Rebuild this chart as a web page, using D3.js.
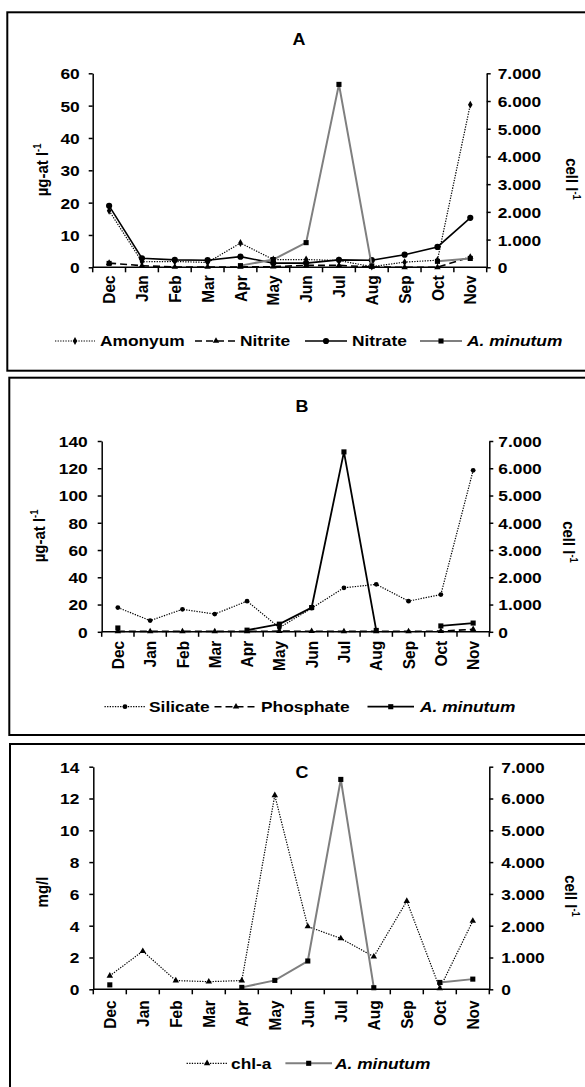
<!DOCTYPE html>
<html><head><meta charset="utf-8">
<script src="https://cdn.jsdelivr.net/npm/d3@7"></script>
<style>
body{margin:0;background:#fff;overflow:hidden}
svg{display:block}
text{font-family:"Liberation Sans",Arial,sans-serif;font-weight:bold;fill:#000}
</style>
</head><body>
<svg id="chart" width="585" height="1087"></svg>
<script>
// ---------- DATA ----------
const months = ["Dec","Jan","Feb","Mar","Apr","May","Jun","Jul","Aug","Sep","Oct","Nov"];
const amonyum   = [17.5, 1.7, 1.8, 1.5, 7.5, 2.4, 2.4, 2.1, 0.2, 1.6, 2.2, 50.3];
const nitrite   = [1.3, 0.5, 0.1, 0.1, 0.1, 0.2, 0.6, 0.6, 0.1, 0.0, 0.0, 3.2];
const nitrate   = [19.0, 2.8, 2.3, 2.2, 3.3, 1.3, 1.3, 2.3, 2.2, 3.9, 6.3, 15.3];
const silicate  = [17.8, 8.2, 16.5, 13.0, 22.5, 3.0, 17.3, 32.3, 34.8, 22.5, 27.3, 118.5];
const phosphate = [0.3, 0.3, 0.3, 0.3, 0.3, 0.5, 0.4, 0.3, 0.3, 0.3, 0.5, 1.8];
const chla      = [0.85, 2.4, 0.55, 0.48, 0.55, 12.2, 3.95, 3.2, 2.05, 5.55, 0.06, 4.3];
const aMinutum  = [140, null, null, null, 60, 280, 890, 6600, 50, null, 215, 320];
const cellTicks = [0, 1000, 2000, 3000, 4000, 5000, 6000, 7000];
const ticksA = [0, 10, 20, 30, 40, 50, 60];
const ticksB = [0, 20, 40, 60, 80, 100, 120, 140];
const ticksC = [0, 2, 4, 6, 8, 10, 12, 14];

// ---------- SETUP ----------
const SX = 1.12, FS = 15.5;
const svg = d3.select("#chart");
const fmt = d3.formatLocale({decimal: ",", thousands: ".", grouping: [3], currency: ["", ""]}).format(",");
const GREY = "#7f7f7f";

const styles = {
  amonyum:   {dash: "1.3,1.3", width: 1.2, color: "#000", sym: d3.symbolDiamond, size: 18},
  nitrite:   {dash: "7,4", width: 1.6, color: "#000", sym: d3.symbolTriangle, size: 18},
  nitrate:   {dash: null, width: 1.6, color: "#000", sym: d3.symbolCircle, size: 30},
  silicate:  {dash: "1.3,1.3", width: 1.2, color: "#000", sym: d3.symbolCircle, size: 18},
  phosphate: {dash: "7,4", width: 1.6, color: "#000", sym: d3.symbolTriangle, size: 18},
  chla:      {dash: "1.3,1.3", width: 1.2, color: "#000", sym: d3.symbolTriangle, size: 18},
  minGrey:   {dash: null, width: 2, color: GREY, sym: d3.symbolSquare, size: 26, mcolor: "#000"},
  minBlack:  {dash: null, width: 1.8, color: "#000", sym: d3.symbolSquare, size: 26}
};

function stext(g, x, y, str, anchor, rot, size, italic) {
  const t = g.append("text")
    .attr("text-anchor", anchor)
    .attr("dy", "0.35em")
    .attr("font-size", size || FS)
    .attr("transform", `translate(${x},${y}) scale(${SX},1)` + (rot ? ` rotate(${rot})` : ""));
  if (italic) t.attr("font-style", "italic");
  t.text(str);
  return t;
}

function supLabel(g, x, y, main, sup, rot, size) {
  const t = g.append("text")
    .attr("text-anchor", "middle")
    .attr("font-size", size)
    .attr("transform", `translate(${x},${y}) scale(${SX},1) rotate(${rot})`);
  t.append("tspan").text(main);
  t.append("tspan").attr("font-size", size * 0.62).attr("dy", -size * 0.4).text(sup);
  return t;
}

function panel(p) {
  const g = svg.append("g");
  g.append("rect")
    .attr("x", p.box[0]).attr("y", p.box[1])
    .attr("width", p.box[2] - p.box[0]).attr("height", p.box[3] - p.box[1])
    .attr("fill", "none").attr("stroke", "#000").attr("stroke-width", 2);

  const x = d3.scaleBand().domain(months).range([p.xL, p.xR]);
  const bw = x.bandwidth();
  const yL = d3.scaleLinear().domain([0, p.leftTicks[p.leftTicks.length - 1]]).range([p.yBot, p.yTop]);
  const yR = d3.scaleLinear().domain([0, 7000]).range([p.yBot, p.yTop]);

  // left axis
  const la = g.append("g").attr("transform", `translate(${p.xL},0)`)
    .call(d3.axisLeft(yL).tickValues(p.leftTicks).tickSize(4).tickSizeOuter(0));
  la.attr("font-size", FS).attr("font-family", null);
  la.selectAll("path,line").attr("stroke", "#000").attr("stroke-width", 1.5);
  la.selectAll("text").attr("x", null).attr("dy", "0.35em")
    .attr("transform", `translate(${-p.lpad},0) scale(${SX},1)`);

  // right axis
  const ra = g.append("g").attr("transform", `translate(${p.xR},0)`)
    .call(d3.axisRight(yR).tickValues(cellTicks).tickFormat(fmt).tickSize(4).tickSizeOuter(0));
  ra.attr("font-size", FS).attr("font-family", null);
  ra.selectAll("path,line").attr("stroke", "#000").attr("stroke-width", 1.5);
  ra.selectAll("text").attr("x", null).attr("dy", "0.35em")
    .attr("transform", `translate(${p.rpad},0) scale(${SX},1)`);

  // x axis
  g.append("line").attr("x1", p.xL).attr("x2", p.xR).attr("y1", p.yBot).attr("y2", p.yBot)
    .attr("stroke", "#000").attr("stroke-width", 1.5);
  g.selectAll(".bt").data(months.map(m => x(m)).concat([p.xR])).enter().append("line")
    .attr("x1", d => d).attr("x2", d => d).attr("y1", p.yBot).attr("y2", p.yBot + 5)
    .attr("stroke", "#000").attr("stroke-width", 1.5);
  g.selectAll(".ml").data(months).enter().append("text")
    .attr("text-anchor", "end").attr("dy", "0.35em").attr("font-size", FS)
    .attr("transform", m => `translate(${x(m) + bw / 2},${p.yBot + p.mpad}) scale(${SX},1) rotate(-90)`)
    .text(m => m);

  // series
  p.series.forEach(s => {
    const st = styles[s.style];
    const y = s.axis === "R" ? yR : yL;
    const line = d3.line().defined(d => d != null)
      .x((d, i) => x(months[i]) + bw / 2).y(d => y(d));
    g.append("path").datum(s.values).attr("d", line)
      .attr("fill", "none").attr("stroke", st.color).attr("stroke-width", st.width)
      .attr("stroke-dasharray", st.dash);
    g.selectAll(null).data(s.values.map((v, i) => ({v, i})).filter(d => d.v != null)).enter()
      .append("path")
      .attr("d", d3.symbol().type(st.sym).size(st.size))
      .attr("transform", d => `translate(${x(months[d.i]) + bw / 2},${y(d.v)})`)
      .attr("fill", st.mcolor || st.color);
  });

  // labels
  stext(g, p.title[0], p.title[1], p.title[2], "middle", 0, 16);
  supLabel(g, p.ylab[0], p.ylab[1], p.ylab[2], p.ylab[3], -90, p.ylab[4]);
  supLabel(g, p.rlab[0], p.rlab[1], "cell l", "-1", 90, 15);

  // legend
  p.legend.forEach(l => {
    const st = styles[l.style];
    g.append("line").attr("x1", l.x0).attr("x2", l.x1).attr("y1", p.legY).attr("y2", p.legY)
      .attr("stroke", st.color).attr("stroke-width", st.width).attr("stroke-dasharray", st.dash);
    g.append("path").attr("d", d3.symbol().type(st.sym).size(st.size))
      .attr("transform", `translate(${(l.x0 + l.x1) / 2},${p.legY})`).attr("fill", st.mcolor || st.color);
    stext(g, l.tx, p.legY, l.label, "start", 0, FS, l.italic);
  });
}

panel({
  box: [7.3, 12.3, 595, 370.7],
  xL: 92.7, xR: 486.7, yTop: 73.3, yBot: 267.3,
  leftTicks: ticksA, lpad: 13, rpad: 11, mpad: 8,
  title: [299, 39, "A"],
  ylab: [48, 170, "µg-at l", "-1", 15],
  rlab: [566, 179],
  series: [
    {values: amonyum, axis: "L", style: "amonyum"},
    {values: nitrite, axis: "L", style: "nitrite"},
    {values: nitrate, axis: "L", style: "nitrate"},
    {values: aMinutum, axis: "R", style: "minGrey"}
  ],
  legY: 341,
  legend: [
    {x0: 55, x1: 95, tx: 100, label: "Amonyum", style: "amonyum"},
    {x0: 195, x1: 237, tx: 240, label: "Nitrite", style: "nitrite"},
    {x0: 305, x1: 347, tx: 352, label: "Nitrate", style: "nitrate"},
    {x0: 420, x1: 462, tx: 467, label: "A. minutum", style: "minGrey", italic: true}
  ]
});

panel({
  box: [9.3, 377.7, 595, 735],
  xL: 101.7, xR: 489.3, yTop: 441, yBot: 631.8,
  leftTicks: ticksB, lpad: 14, rpad: 9, mpad: 9,
  title: [302, 406.5, "B"],
  ylab: [45, 536, "µg-at l", "-1", 15],
  rlab: [563, 542],
  series: [
    {values: silicate, axis: "L", style: "silicate"},
    {values: phosphate, axis: "L", style: "phosphate"},
    {values: aMinutum, axis: "R", style: "minBlack"}
  ],
  legY: 706.7,
  legend: [
    {x0: 104.5, x1: 145.5, tx: 149, label: "Silicate", style: "silicate"},
    {x0: 214.5, x1: 257.5, tx: 261, label: "Phosphate", style: "phosphate"},
    {x0: 367.5, x1: 414, tx: 420, label: "A. minutum", style: "minBlack", italic: true}
  ]
});

panel({
  box: [10, 744, 595, 1095],
  xL: 93.3, xR: 489.3, yTop: 766.7, yBot: 989.3,
  leftTicks: ticksC, lpad: 14, rpad: 12, mpad: 11,
  title: [302, 772.5, "C"],
  ylab: [48, 892, "mg/l", "", 15],
  rlab: [565, 896],
  series: [
    {values: chla, axis: "L", style: "chla"},
    {values: aMinutum, axis: "R", style: "minGrey"}
  ],
  legY: 1063.3,
  legend: [
    {x0: 186.6, x1: 227.6, tx: 231, label: "chl-a", style: "chla"},
    {x0: 285.4, x1: 332, tx: 335, label: "A. minutum", style: "minGrey", italic: true}
  ]
});
</script>
</body></html>
